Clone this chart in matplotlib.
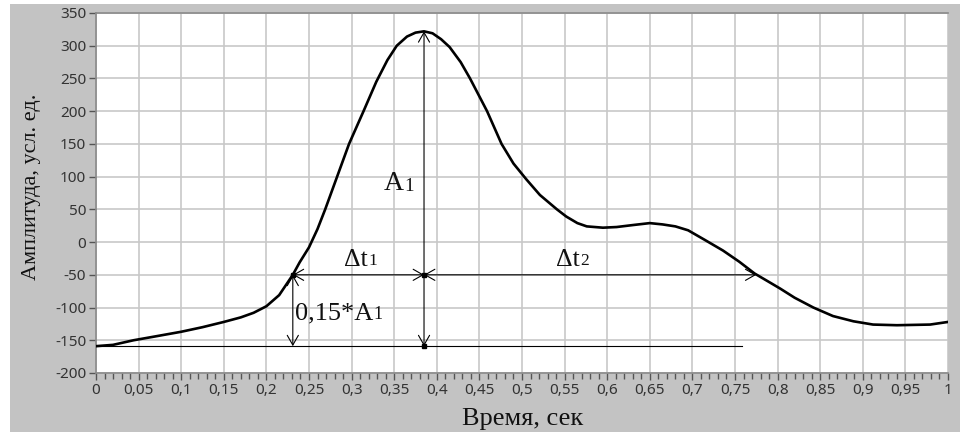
import matplotlib
matplotlib.use("Agg")
import matplotlib.pyplot as plt
from matplotlib.patches import Rectangle

# curve (time, amplitude)
t = [0.000, 0.020, 0.044, 0.070, 0.100, 0.125, 0.150, 0.170, 0.185, 0.200,
     0.215, 0.231, 0.239, 0.250, 0.260, 0.269, 0.283, 0.297, 0.314, 0.329,
     0.342, 0.353, 0.365, 0.375, 0.385, 0.395, 0.405, 0.415, 0.428, 0.439,
     0.459, 0.476, 0.490, 0.505, 0.521, 0.541, 0.552, 0.565, 0.576, 0.595,
     0.611, 0.630, 0.650, 0.665, 0.680, 0.695, 0.715, 0.736, 0.755, 0.773,
     0.790, 0.803, 0.820, 0.842, 0.865, 0.889, 0.912, 0.940, 0.979, 1.000]
amp = [-159, -157, -150, -144, -137, -130, -122, -115, -108, -98,
       -81, -50, -31, -8, 20, 50, 100, 150, 200, 245,
       278, 300, 314, 320, 322, 319, 310, 298, 275, 250,
       200, 150, 120, 96, 72, 50, 39, 29, 24, 22,
       23, 26, 29, 27, 24, 18, 3, -13, -30, -48,
       -61, -71, -85, -100, -113, -121, -126, -127, -126, -122]

# annotation values
t_start = 0.231   # 0.15*A1 crossing on the rise
t_peak = 0.385
t_end = 0.775     # crossing on the fall
level = -50
base = -159
peak = 322
base_end = 0.758

xticks = [i * 0.05 for i in range(21)]
xticklabels = ['0', '0,05', '0,1', '0,15', '0,2', '0,25', '0,3', '0,35', '0,4',
               '0,45', '0,5', '0,55', '0,6', '0,65', '0,7', '0,75', '0,8',
               '0,85', '0,9', '0,95', '1']
yticks = [-200, -150, -100, -50, 0, 50, 100, 150, 200, 250, 300, 350]

serif = 'Liberation Serif'

fig = plt.figure(figsize=(9.6, 4.34), dpi=100, facecolor='white')
# grey panel behind the plot
fig.patches.append(Rectangle((10 / 960, 2 / 434), 950 / 960, 428 / 434,
                             transform=fig.transFigure, facecolor='#c3c3c3',
                             edgecolor='none', zorder=-10))
ax = fig.add_axes([96 / 960, 1 - 373 / 434, 852 / 960, 360 / 434])
ax.set_facecolor('white')

ax.set_xlim(0, 1)
ax.set_ylim(-200, 350)
ax.set_xticks(xticks)
ax.set_xticklabels(xticklabels)
ax.set_xticks([i * 0.01 for i in range(101)], minor=True)
ax.set_yticks(yticks)
ax.set_yticklabels([str(v) for v in yticks])
ax.grid(True, which='major', color='#c8c8c8', lw=1.2)
ax.set_axisbelow(True)

ax.tick_params(axis='both', which='major', direction='out', length=5, width=1,
               color='#555555', labelcolor='#333333', labelsize=11, pad=2)
ax.tick_params(axis='x', which='minor', direction='out', length=4, width=1,
               color='#555555')
for lbl in ax.get_xticklabels() + ax.get_yticklabels():
    lbl.set_family('Noto Sans')

for side in ['left', 'bottom', 'top']:
    ax.spines[side].set_color('#8a8a8a')
    ax.spines[side].set_linewidth(1.2)
ax.spines['right'].set_visible(False)

ax.plot(t, amp, color='black', lw=1.9, zorder=5)

# construction lines and arrows
lw_a = 0.8
ax.plot([0, base_end], [base, base], color='black', lw=lw_a, zorder=4)
ap = dict(arrowstyle='<->,head_length=0.7,head_width=0.4', lw=lw_a,
          color='black', shrinkA=0, shrinkB=0)
ax.annotate('', xy=(t_start, base), xytext=(t_start, level), arrowprops=ap)
ax.annotate('', xy=(t_peak, base), xytext=(t_peak, peak), arrowprops=ap)
ax.annotate('', xy=(t_start, level), xytext=(t_peak, level), arrowprops=ap)
ax.annotate('', xy=(t_peak, level), xytext=(t_end, level), arrowprops=ap)
ax.plot([t_start, t_peak, t_peak], [level, level, base], 's', color='black',
        ms=2.5, zorder=6)


def sub_label(x, y, main, sub, size, ha='left'):
    txt = ax.text(x, y, main, family=serif, fontsize=size, color='#111111',
                  ha=ha, va='bottom', zorder=7)
    ax.annotate(sub, xy=(1, 0), xycoords=txt, xytext=(0.3, 1.2),
                textcoords='offset points', family=serif,
                fontsize=size * 0.68, color='#111111', ha='left', va='bottom')
    return txt


sub_label(0.338, 70, 'A', '1', 20)
sub_label(0.291, -44, '\u0394t', '1', 18.5)
sub_label(0.540, -44, '\u0394t', '2', 18.5)
sub_label(0.233, -126, '0,15*A', '1', 19)

fig.text(523 / 960, 1 - 419 / 434, 'Время, сек', family=serif, fontsize=19,
         ha='center', va='center', color='#111111')
fig.text(32 / 960, 1 - 187 / 434, 'Амплитуда, усл. ед.', family=serif,
         fontsize=16, rotation=90, ha='center', va='center', color='#111111')

fig.savefig('out.png', dpi=100, facecolor=fig.get_facecolor())
